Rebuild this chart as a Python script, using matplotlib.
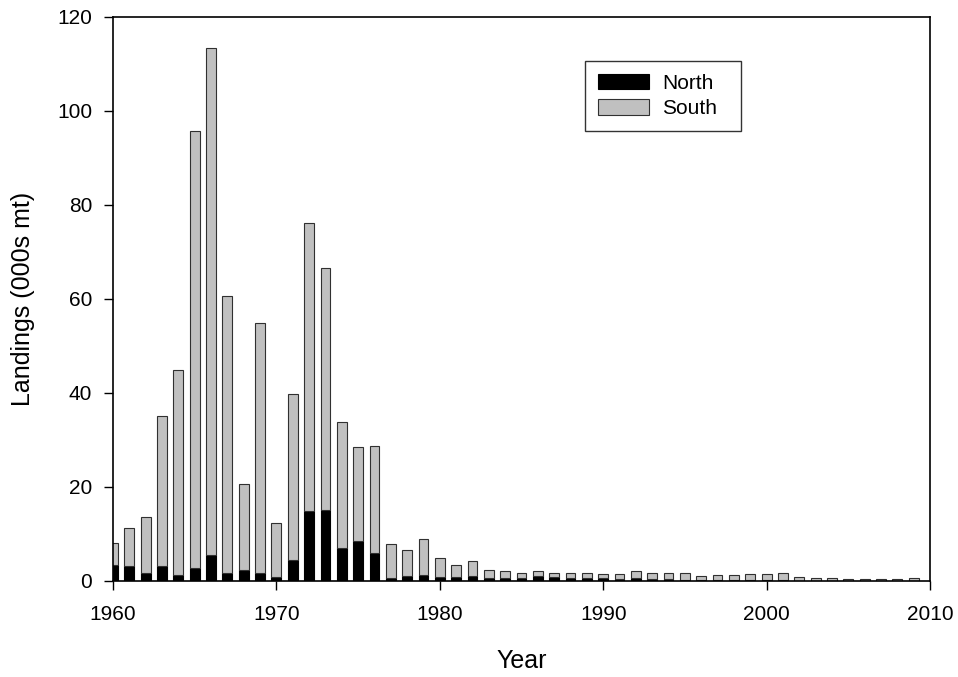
import matplotlib
matplotlib.use("Agg")
import matplotlib.pyplot as plt

plt.rcParams['font.family'] = ['Liberation Sans', 'DejaVu Sans']

years = list(range(1960, 2010))
total = [8.0, 11.2, 13.7, 35.1, 44.9, 95.7, 113.5, 60.6, 20.7, 54.9,
         12.4, 39.8, 76.1, 66.6, 33.8, 28.6, 28.7, 7.8, 6.6, 9.0,
         5.0, 3.5, 4.2, 2.3, 2.2, 1.8, 2.1, 1.8, 1.6, 1.6,
         1.4, 1.5, 2.1, 1.6, 1.6, 1.6, 1.0, 1.3, 1.3, 1.5,
         1.5, 1.6, 0.8, 0.65, 0.55, 0.35, 0.35, 0.4, 0.5, 0.55]
north = [3.5, 3.1, 1.8, 3.1, 1.2, 2.7, 5.5, 1.6, 2.4, 1.8,
         0.8, 4.5, 15.0, 15.1, 7.1, 8.5, 6.0, 0.7, 1.1, 1.3,
         0.9, 0.9, 1.1, 0.7, 0.7, 0.7, 1.1, 0.85, 0.7, 0.6,
         0.6, 0.4, 0.7, 0.4, 0.4, 0.3, 0.2, 0.2, 0.2, 0.2,
         0.2, 0.2, 0.1, 0.1, 0.1, 0.1, 0.1, 0.1, 0.1, 0.1]
south = [t - n for t, n in zip(total, north)]

W, H = 958, 677
L, R, T, B = 113, 930, 17, 581
fig = plt.figure(figsize=(W/100, H/100), dpi=100)
ax = fig.add_axes([L/W, (H-B)/H, (R-L)/W, (B-T)/H])

ax.bar(years, north, width=0.6, color='black', edgecolor='black', linewidth=0.8, label='North')
ax.bar(years, south, width=0.6, bottom=north, color='#c0c0c0', edgecolor='#303030', linewidth=0.8, label='South')

ax.set_xlim(1960, 2010)
ax.set_ylim(0, 120)
ax.set_xticks(range(1960, 2011, 10))
ax.set_yticks(range(0, 121, 20))
ax.tick_params(direction='out', length=6.5, width=1, labelsize=15, top=False, right=False)
ax.tick_params(axis='x', pad=11)
ax.tick_params(axis='y', pad=8.5)
for s in ax.spines.values():
    s.set_linewidth(1.2)

ax.set_xlabel('Year', fontsize=18, va='center')
ax.xaxis.set_label_coords(0.5, (B - 661) / (B - T))
ax.set_ylabel('Landings (000s mt)', fontsize=18, va='center', ha='center')
ax.yaxis.set_label_coords((23.5 - L) / (R - L), 0.5)

x0 = (585 - L) / (R - L)
y1 = 1 - (61 - T) / (B - T)
wleg = (741 - 585) / (R - L)
leg = ax.legend(loc='upper left', bbox_to_anchor=(x0, y1 - 0.2, wleg, 0.2), mode='expand',
                bbox_transform=ax.transAxes, borderaxespad=0,
                fontsize=15, frameon=True, fancybox=False, edgecolor='black',
                handlelength=2.45, handleheight=0.77, borderpad=0.6,
                labelspacing=0.32, handletextpad=0.67)
leg.get_frame().set_linewidth(1.0)

fig.savefig('out.png', dpi=100)
